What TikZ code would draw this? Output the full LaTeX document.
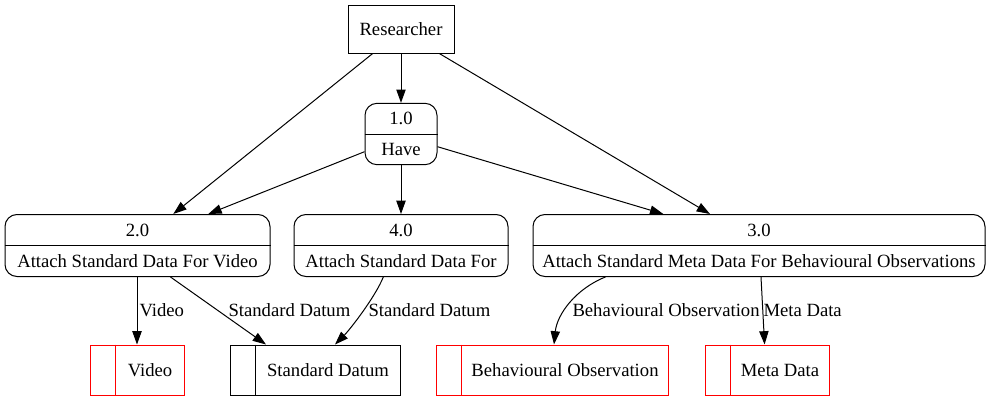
\documentclass[tikz,border=0pt]{standalone}
\usepackage{fontspec}
\setmainfont{Liberation Serif}
\usetikzlibrary{arrows.meta,calc}
\begin{document}
\begin{tikzpicture}[x=0.75pt,y=-0.75pt, line width=0.75pt,
  every node/.style={font=\fontsize{14}{16}\selectfont},
  ext/.style={draw, rectangle, minimum width=79.5pt, minimum height=36pt, inner sep=0pt},
  proc/.style={draw, rectangle, rounded corners=9pt, minimum height=46.5pt, inner sep=0pt},
  txt/.style={inner sep=0pt},
  store/.style={draw, rectangle, minimum height=37.5pt, inner sep=0pt},
  flow/.style={-{Triangle[length=10pt,width=7pt]}},
  lbl/.style={anchor=west, inner sep=0pt}]
\useasboundingbox (0,0) rectangle (990,400);

% external entity
\node[ext] (r) at (401,29) {Researcher};

% processes
\node[proc, minimum width=54pt, minimum height=46pt] (p1) at (401,134) {};
\draw (p1.west) -- (p1.east);
\node[txt] (p1a) at ($(p1.center)+(0,-15.5)$) {1.0};
\node[txt] (p1b) at ($(p1.center)+(0,15)$) {Have};

\node[proc, minimum width=198.75pt] (p2) at (137.5,245.5) {};
\draw (p2.west) -- (p2.east);
\node[txt] (p2a) at ($(p2.center)+(0,-15.5)$) {2.0};
\node[txt] (p2b) at ($(p2.center)+(0,15.5)$) {Attach Standard Data For Video};

\node[proc, minimum width=160.5pt] (p4) at (401,245.5) {};
\draw (p4.west) -- (p4.east);
\node[txt] (p4a) at ($(p4.center)+(0,-15.5)$) {4.0};
\node[txt] (p4b) at ($(p4.center)+(0,15.5)$) {Attach Standard Data For};

\node[proc, minimum width=339pt] (p3) at (759,245.5) {};
\draw (p3.west) -- (p3.east);
\node[txt] (p3a) at ($(p3.center)+(0,-15.5)$) {3.0};
\node[txt] (p3b) at ($(p3.center)+(0,15.5)$) {Attach Standard Meta Data For Behavioural Observations};

% data stores
\node[store, red, text=black, minimum width=70.5pt] (v) at (137,370) {\hspace*{19.5pt}Video};
\draw[red] ([xshift=19.5pt]v.north west) -- ([xshift=19.5pt]v.south west);
\node[store, minimum width=127.5pt] (sd) at (315,370) {\hspace*{19.5pt}Standard Datum};
\draw ([xshift=19.5pt]sd.north west) -- ([xshift=19.5pt]sd.south west);
\node[store, red, text=black, minimum width=174pt] (bo) at (552,370) {\hspace*{19.5pt}Behavioural Observation};
\draw[red] ([xshift=19.5pt]bo.north west) -- ([xshift=19.5pt]bo.south west);
\node[store, red, text=black, minimum width=93pt] (md) at (767,370) {\hspace*{19.5pt}Meta Data};
\draw[red] ([xshift=19.5pt]md.north west) -- ([xshift=19.5pt]md.south west);

% flows
\draw[flow] (r.south) -- (p1.north);
\draw[flow] ($(r.south)+(-28.3,0)$) -- ($(p2.north)+(35.8,0)$);
\draw[flow] ($(r.south)+(38.3,0)$) -- ($(p3.north)+(-49,0)$);
\draw[flow] ($(p1.west)+(0,17.7)$) -- ($(p2.north)+(70.8,0)$);
\draw[flow] (p1.south) -- (p4.north);
\draw[flow] ($(p1.east)+(0,12.7)$) -- ($(p3.north)+(-95.7,0)$);

\draw[flow] ($(p2.south)+(-0.5,0)$) -- (v.north);
\node[lbl] (lv) at (139,310) {Video};
\draw[flow] ($(p2.south)+(33,0)$) -- ($(sd.north)+(-49,0)$);
\node[lbl] (lsd1) at (228,310) {Standard Datum};
\draw[flow] ($(p4.south)+(-17.7,0)$) .. controls +(-8,20) and +(15,-15) .. ($(sd.north)+(20,0)$);
\node[lbl] (lsd2) at (368,310) {Standard Datum};
\draw[flow] ($(p3.south)+(-153.6,0)$) .. controls +(-30,12) and +(3,-30) .. ($(bo.north)+(2,0)$);
\node[lbl] (lbo) at (572,310) {Behavioural Observation};
\draw[flow] ($(p3.south)+(2,0)$) -- ($(md.north)+(-2.4,0)$);
\node[lbl] (lmd) at (763,310) {Meta Data};
\end{tikzpicture}
\end{document}
